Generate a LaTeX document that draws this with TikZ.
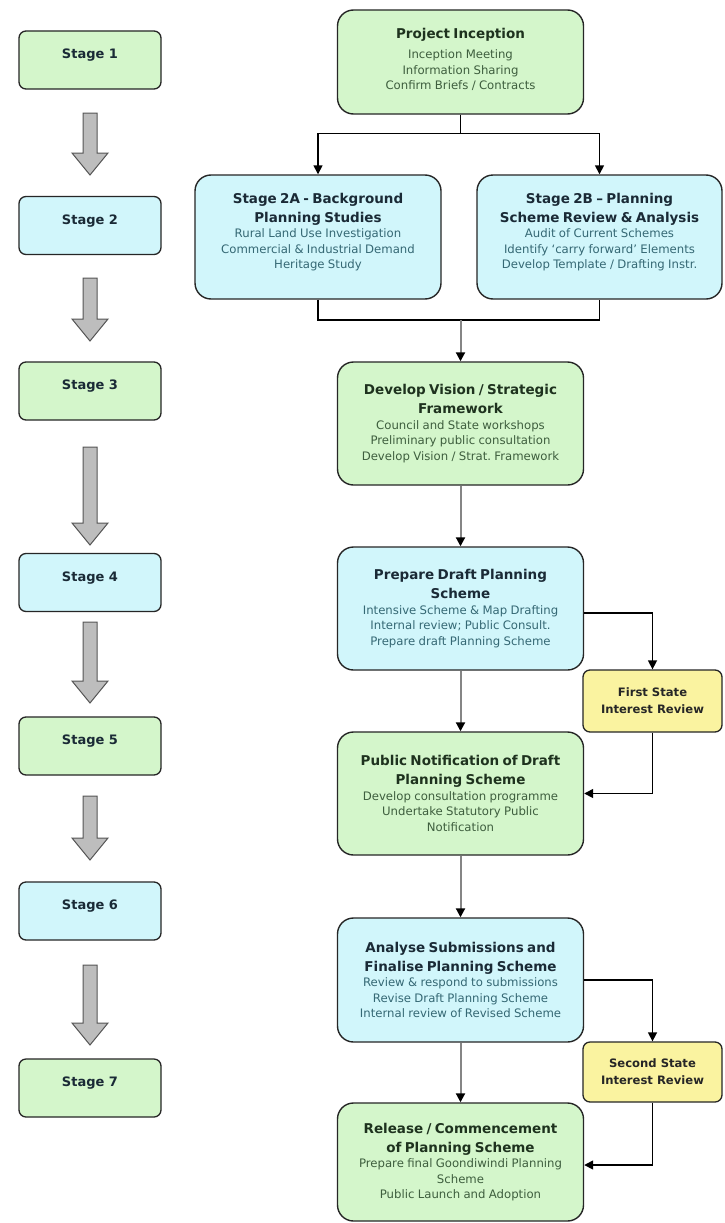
\documentclass[tikz,border=0pt]{standalone}
\usepackage{fontspec}
\setmainfont{DejaVu Sans}
\usetikzlibrary{arrows.meta,calc}
\setlength\parindent{0pt}
\frenchspacing
\definecolor{gfill}{HTML}{D4F6CB}
\definecolor{bfill}{HTML}{D1F6FB}
\definecolor{yfill}{HTML}{FAF3A0}
\definecolor{gtitle}{HTML}{1E321E}
\definecolor{btitle}{HTML}{1A2A36}
\definecolor{gsub}{HTML}{3E5E3E}
\definecolor{bsub}{HTML}{356874}
\definecolor{edge}{HTML}{262626}
\definecolor{arrfill}{HTML}{BDBDBD}
\definecolor{arredge}{HTML}{555555}
\definecolor{gline}{HTML}{858585}
\newcommand\mytitle[2]{{\color{#1}\fontsize{13.5}{19}\selectfont\bfseries #2\par}}
\newcommand\mysub[2]{{\color{#1}\fontsize{11.7}{15.5}\selectfont #2\par}}
\newcommand\lifted[2]{\raisebox{#1}[\height][\depth]{\parbox{238pt}{\centering #2}}}
\newcommand\blockarrow[2]{\draw[blockarr] (83,#1) -- (97,#1) -- (97,{#2-22}) -- (108,{#2-22}) -- (90,#2) -- (72,{#2-22}) -- (83,{#2-22}) -- cycle;}
\tikzset{
  mainbox/.style={draw=edge, line width=1.4pt, rounded corners=16pt, minimum width=246pt, text width=238pt, align=center, inner sep=0pt},
  gbox/.style={mainbox, fill=gfill},
  bbox/.style={mainbox, fill=bfill},
  stagebox/.style={draw=edge, line width=1.3pt, rounded corners=7pt, minimum width=142pt, minimum height=58pt, inner sep=0pt, font=\fontsize{13}{15}\selectfont\bfseries, text=btitle, text height=10pt, text depth=13pt},
  gstage/.style={stagebox, fill=gfill},
  bstage/.style={stagebox, fill=bfill},
  ybox/.style={draw=edge, line width=1.3pt, rounded corners=7pt, fill=yfill, minimum width=139pt, inner sep=0pt, align=center, font=\fontsize{11.6}{17}\selectfont\bfseries, text=black!85},
  blockarr/.style={draw=arredge, fill=arrfill, line width=1pt, line join=miter},
  tip/.style={-{Triangle[width=9pt,length=9pt,color=black]}},
  conn/.style={draw=black, line width=1.5pt, tip},
  plain/.style={draw=black, line width=1.5pt},
  gconn/.style={draw=gline, line width=2pt, tip}
}
\begin{document}
\begin{tikzpicture}[x=1pt,y=-1pt]
\useasboundingbox (0,0) rectangle (724,1223);
\fill[white] (0,0) rectangle (724,1223);

% left stage column
\node[gstage] (st1) at (90,60) {Stage 1};
\node[bstage] (st2) at (90,225.5) {Stage 2};
\node[gstage] (st3) at (90,391) {Stage 3};
\node[bstage] (st4) at (90,582.5) {Stage 4};
\node[gstage] (st5) at (90,746) {Stage 5};
\node[bstage] (st6) at (90,911) {Stage 6};
\node[gstage] (st7) at (90,1088) {Stage 7};

\blockarrow{113}{175}
\blockarrow{278}{341}
\blockarrow{447}{545}
\blockarrow{622}{703}
\blockarrow{796}{860}
\blockarrow{965}{1045}

% main flow
\node[gbox, minimum height=104pt] (pi) at (460.5,62) {\lifted{2.5pt}{\mytitle{gtitle}{Project Inception}\vspace*{5pt}\mysub{gsub}{Inception Meeting\\Information Sharing\\Confirm Briefs / Contracts}}};
\node[bbox, minimum height=124pt] (s2a) at (318,237) {\lifted{5pt}{\mytitle{btitle}{Stage 2A - Background\\Planning Studies}\mysub{bsub}{Rural Land Use Investigation\\Commercial \& Industrial Demand\\Heritage Study}}};
\node[bbox, minimum height=124pt, minimum width=245pt] (s2b) at (599.5,237) {\lifted{5pt}{\mytitle{btitle}{Stage 2B -- Planning\\Scheme Review \& Analysis}\mysub{bsub}{Audit of Current Schemes\\Identify `carry forward' Elements\\Develop Template / Drafting Instr.}}};
\node[gbox, minimum height=123pt] (dv) at (460.5,423.5) {\mytitle{gtitle}{Develop Vision / Strategic\\Framework}\mysub{gsub}{Council and State workshops\\Preliminary public consultation\\Develop Vision / Strat. Framework}};
\node[bbox, minimum height=123pt] (pd) at (460.5,608.5) {\mytitle{btitle}{Prepare Draft Planning\\Scheme}\mysub{bsub}{Intensive Scheme \& Map Drafting\\Internal review; Public Consult.\\Prepare draft Planning Scheme}};
\node[gbox, minimum height=123pt] (pn) at (460.5,793.5) {\mytitle{gtitle}{Public Notification of Draft\\Planning Scheme}\mysub{gsub}{Develop consultation programme\\Undertake Statutory Public\\Notification}};
\node[bbox, minimum height=124pt] (an) at (460.5,980) {\mytitle{btitle}{Analyse Submissions and\\Finalise Planning Scheme}\mysub{bsub}{Review \& respond to submissions\\Revise Draft Planning Scheme\\Internal review of Revised Scheme}};
\node[gbox, minimum height=118pt] (rel) at (460.5,1162) {\mytitle{gtitle}{Release / Commencement\\of Planning Scheme}\mysub{gsub}{Prepare final Goondiwindi Planning\\Scheme\\Public Launch and Adoption}};
\node[ybox, minimum height=62pt] (fs) at (652.5,701) {First State\\Interest Review};
\node[ybox, minimum height=60pt] (ss) at (652.5,1072) {Second State\\Interest Review};

% connectors
\draw[conn] (pi.south) -- ++(0,19) -| (s2a.north);
\draw[conn] (pi.south) -- ++(0,19) -| (s2b.north);
\coordinate (m) at (460.5,320);
\draw[plain] (s2a.south) |- (m) -| (s2b.south);
\draw[gconn] (m) -- (dv.north);
\draw[gconn] (dv.south) -- (pd.north);
\draw[conn] ($(pd.east)+(0,4.5)$) -| (fs.north);
\draw[gconn] (pd.south) -- (pn.north);
\draw[conn] (fs.south) |- (pn.east);
\draw[gconn] (pn.south) -- (an.north);
\draw[conn] (an.east) -| (ss.north);
\draw[gconn] (an.south) -- (rel.north);
\draw[conn] (ss.south) |- ($(rel.east)+(0,3)$);
\end{tikzpicture}
\end{document}
